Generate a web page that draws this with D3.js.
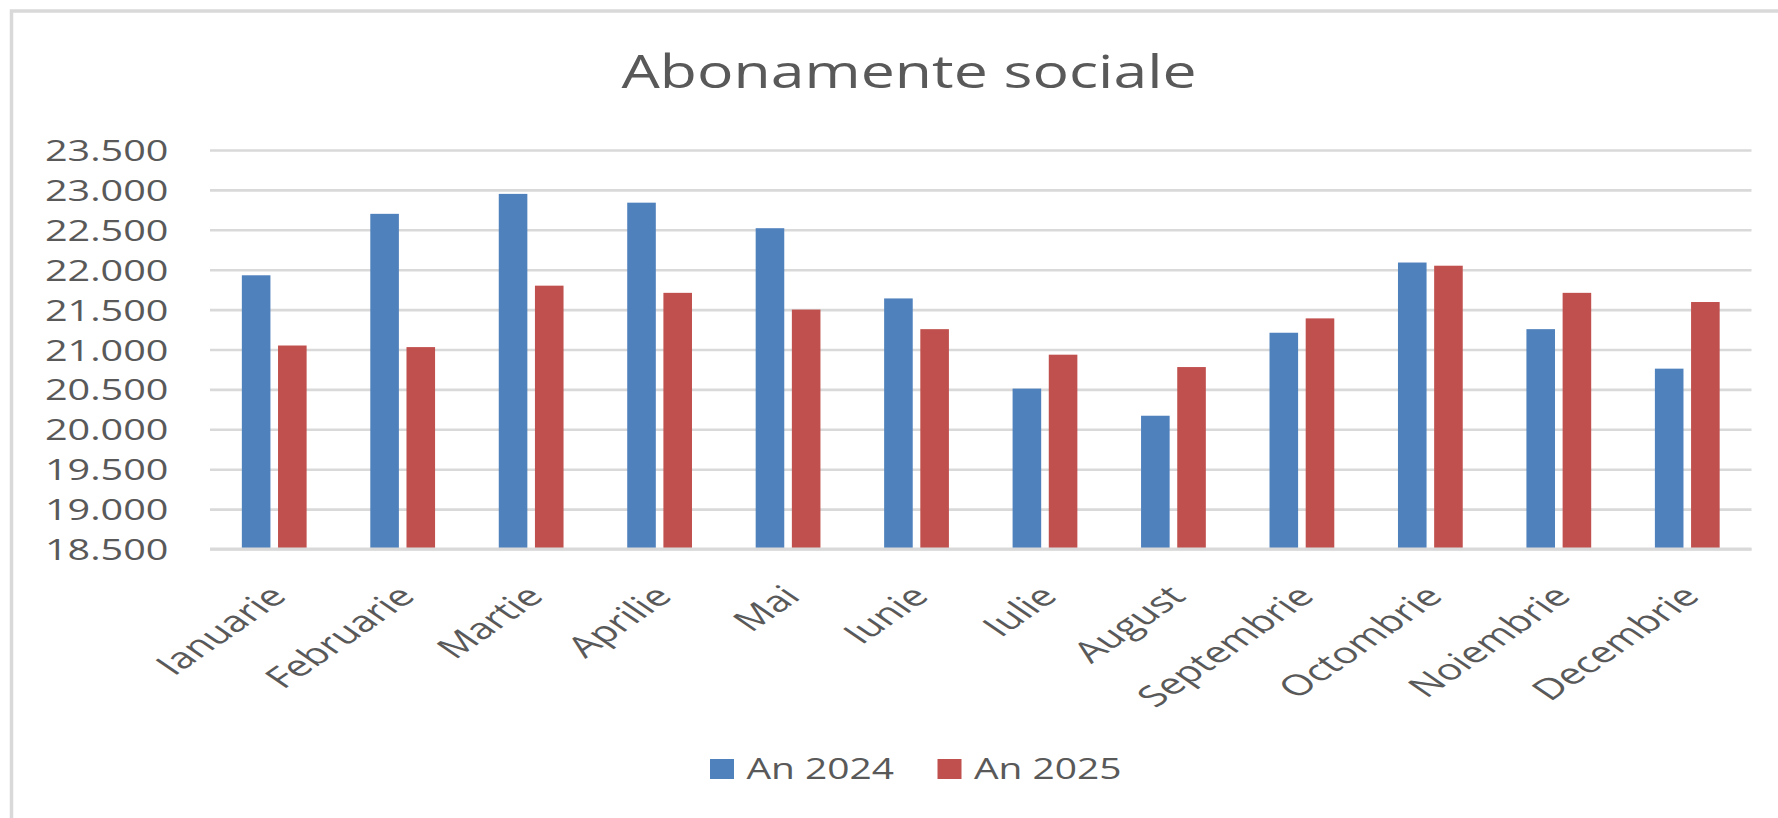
<!DOCTYPE html>
<html>
<head>
<meta charset="utf-8">
<script src="https://cdn.jsdelivr.net/npm/d3@7"></script>
<style>
  html, body { margin: 0; padding: 0; background: #fff; }
  svg { display: block; }
  text { font-family: "Open Sans", sans-serif; fill: #595959; }
</style>
</head>
<body>
<svg width="1778" height="818"></svg>
<script>
// data
const months = ["Ianuarie", "Februarie", "Martie", "Aprilie", "Mai", "Iunie",
  "Iulie", "August", "Septembrie", "Octombrie", "Noiembrie", "Decembrie"];
const seriesNames = ["An 2024", "An 2025"];
const values2024 = [21930, 22700, 22950, 22840, 22520, 21640, 20510, 20170, 21210, 22090, 21255, 20760];
const values2025 = [21050, 21030, 21800, 21710, 21500, 21255, 20935, 20780, 21390, 22050, 21710, 21595];
const yTicks = [18500, 19000, 19500, 20000, 20500, 21000, 21500, 22000, 22500, 23000, 23500];
const colors = ["#4f81bd", "#c0504d"];

// the reference picture is stretched sideways, text is scaled to match
const sx = 1.32, sxRot = 1.45;

const svg = d3.select("svg");
const W = 1778, H = 818;
const plotL = 210, plotR = 1751.5, plotT = 150, plotB = 549;

// chart area border (cut at right/bottom like the reference)
svg.append("rect")
  .attr("x", 11.5).attr("y", 11)
  .attr("width", W + 20).attr("height", H + 20)
  .attr("fill", "#fff")
  .attr("stroke", "#d9d9d9")
  .attr("stroke-width", 3.5);

const fmt = d3.formatLocale({ decimal: ",", thousands: ".", grouping: [3], currency: ["", ""] }).format(",");

const y = d3.scaleLinear().domain([18500, 23500]).range([plotB, plotT]);
const x0 = d3.scaleBand().domain(months).range([plotL, plotR]).padding(0);
const x1 = d3.scaleBand().domain(seriesNames).range([0, x0.bandwidth()])
  .paddingInner(0.21).paddingOuter(0.88);

// gridlines
svg.append("g")
  .attr("transform", `translate(${plotL},0)`)
  .call(d3.axisLeft(y).tickValues(yTicks).tickSize(-(plotR - plotL)).tickFormat(""))
  .call(g => g.select(".domain").remove())
  .call(g => g.selectAll("line").attr("stroke", "#d9d9d9").attr("stroke-width", 2.6));

// y labels
svg.append("g")
  .attr("transform", `translate(${plotL},0)`)
  .call(d3.axisLeft(y).tickValues(yTicks).tickSize(0).tickFormat(fmt))
  .call(g => g.select(".domain").remove())
  .call(g => g.selectAll("text")
    .attr("x", null).attr("dy", null)
    .attr("transform", `translate(-41.5,10.5) scale(${sx},1)`)
    .attr("text-anchor", "end")
    .attr("font-size", 30)
    .style("font-family", "'Open Sans', sans-serif")
    .attr("fill", "#595959"));

// bars
const rows = months.map((m, i) => ({ month: m, vals: [values2024[i], values2025[i]] }));
svg.append("g")
  .selectAll("g")
  .data(rows)
  .join("g")
  .attr("transform", d => `translate(${x0(d.month)},0)`)
  .selectAll("rect")
  .data(d => d.vals.map((v, k) => ({ key: seriesNames[k], v, k })))
  .join("rect")
  .attr("x", d => x1(d.key))
  .attr("width", x1.bandwidth())
  .attr("y", d => y(d.v))
  .attr("height", d => y(18500) - y(d.v))
  .attr("fill", d => colors[d.k]);

// baseline
svg.append("line")
  .attr("x1", plotL).attr("x2", plotR)
  .attr("y1", y(18500)).attr("y2", y(18500))
  .attr("stroke", "#d9d9d9").attr("stroke-width", 2.8);

// x labels, rotated
svg.append("g")
  .attr("transform", `translate(0,${plotB})`)
  .call(d3.axisBottom(x0).tickSize(0))
  .call(g => g.select(".domain").remove())
  .call(g => g.selectAll("text")
    .attr("y", null).attr("dy", null)
    .attr("transform", `translate(14,49) scale(${sxRot},1) rotate(-45)`)
    .attr("text-anchor", "end")
    .attr("font-size", 29)
    .style("font-family", "'Open Sans', sans-serif")
    .attr("fill", "#595959"));

// title
svg.append("text")
  .attr("transform", `translate(909,88) scale(${sx},1)`)
  .attr("text-anchor", "middle")
  .attr("font-size", 46)
  .text("Abonamente sociale");

// legend
const legendX = [710, 937.5];
const legend = svg.append("g")
  .selectAll("g")
  .data(seriesNames)
  .join("g")
  .attr("transform", (d, i) => `translate(${legendX[i]},759)`);
legend.append("rect")
  .attr("width", 24).attr("height", 20)
  .attr("fill", (d, i) => colors[i]);
legend.append("text")
  .attr("transform", `translate(36.5,20.3) scale(${sx},1)`)
  .attr("font-size", 29.5)
  .text(d => d);
</script>
</body>
</html>
